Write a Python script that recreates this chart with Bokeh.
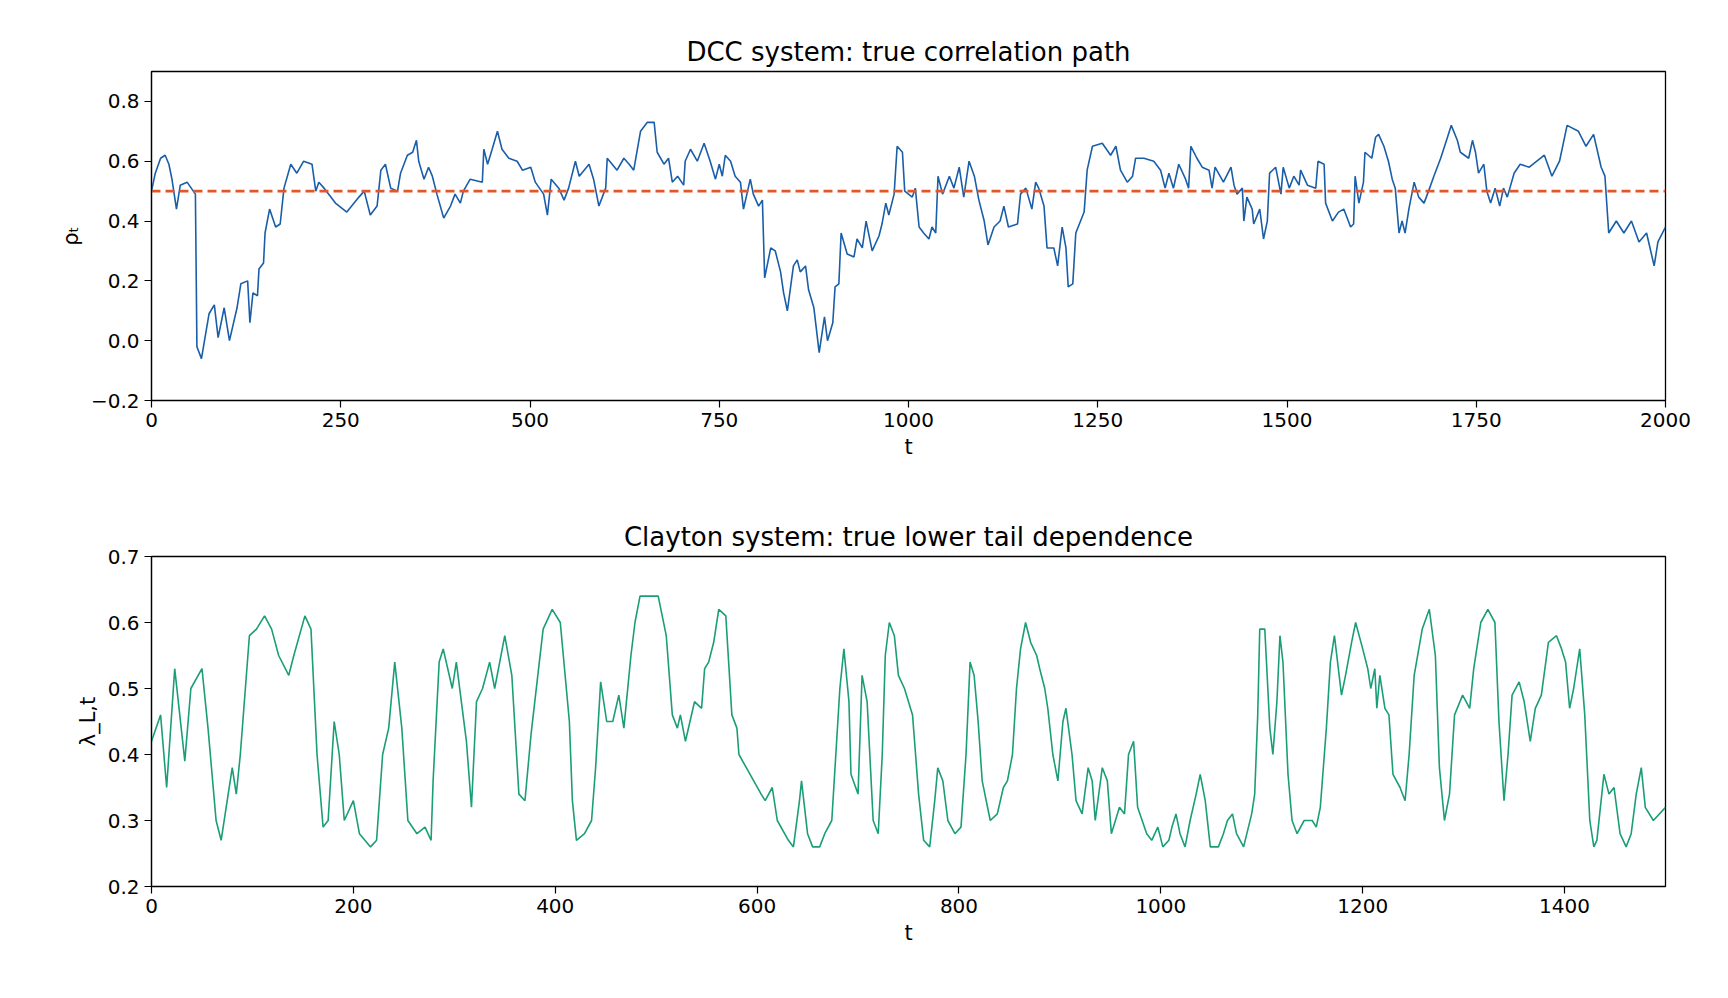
from bokeh.plotting import figure
from bokeh.layouts import column
from bokeh.models import FixedTicker, Range1d
from bokeh.embed import file_html
from bokeh.resources import INLINE

# DCC: true correlation path
dcc_t = [0,5,12,18,23,27,33,38,47,58,60,66,76,83,88,96,103,113,118,127,130,134,140,142,148,150,156,164,170,175,184,192,201,212,217,221,228,243,258,274,281,289,298,303,309,316,325,329,338,345,350,353,360,366,371,377,386,395,401,408,412,421,437,439,444,450,457,463,472,483,490,501,507,518,523,528,538,545,551,560,565,578,584,591,600,
         602,615,624,631,637,646,655,664,668,677,683,688,695,703,705,712,721,730,738,745,750,754,758,765,771,778,782,791,795,802,807,810,818,824,831,835,840,848,853,857,864,868,875,882,889,893,900,903,908,911,919,928,932,939,944,952,961,965,970,974,978,981,985,992,995,1005,1009,1014,1020,1027,1031,1036,1039,1045,1054,1060,1067,1073,1080,1087,1093,1100,1105,1113,1121,1126,1132,1144,1148,1155,1163,1168,1172,1179,1183,1192,1197,1203,1208,1211,1217,1221,
         1232,1236,1243,1256,1267,1274,1280,1289,1296,1300,1311,1324,1333,1339,1344,1350,1357,1366,1370,1373,1381,1388,1397,1401,1405,1416,1426,1430,1434,1441,1443,1447,1454,1456,1464,1469,1474,1477,1485,1492,1495,1503,1509,1516,1518,1527,1538,1541,1549,1551,1560,1568,1575,1584,1588,1590,1595,1601,1603,1612,1617,1621,1628,1634,1639,1643,1648,1652,1656,1661,1668,1674,1681,1687,1694,1703,1712,1717,1725,1729,1740,1745,1749,1753,1760,1764,1769,1775,1781,1786,1791,1800,1808,
         1820,1840,1850,1860,1870,1885,1895,1905,1915,1920,1925,1935,1945,1955,1965,1975,1985,1990,2000]
dcc_rho = [0.50,0.56,0.61,0.62,0.59,0.54,0.44,0.52,0.53,0.49,-0.02,-0.06,0.09,0.12,0.01,0.11,0.00,0.11,0.19,0.20,0.06,0.16,0.15,0.24,0.26,0.36,0.44,0.38,0.39,0.51,0.59,0.56,0.60,0.59,0.50,0.53,0.51,0.46,0.43,0.48,0.50,0.42,0.45,0.57,0.59,0.51,0.50,0.56,0.62,0.63,0.67,0.60,0.54,0.58,0.55,0.49,0.41,0.45,0.49,0.46,0.50,0.54,0.53,0.64,0.59,0.64,0.70,0.64,0.61,0.60,0.57,0.58,0.53,0.49,0.42,0.54,0.51,0.47,0.51,0.60,0.55,0.59,0.54,0.45,0.51,
           0.61,0.57,0.61,0.59,0.57,0.70,0.73,0.73,0.63,0.59,0.61,0.53,0.55,0.52,0.60,0.64,0.60,0.66,0.60,0.54,0.59,0.55,0.62,0.60,0.55,0.53,0.44,0.54,0.49,0.45,0.47,0.21,0.31,0.30,0.23,0.16,0.10,0.25,0.27,0.23,0.25,0.17,0.11,-0.04,0.08,0.00,0.06,0.18,0.19,0.36,0.29,0.28,0.34,0.31,0.40,0.30,0.35,0.39,0.46,0.42,0.46,0.49,0.65,0.63,0.50,0.48,0.51,0.38,0.36,0.34,0.38,0.36,0.55,0.49,0.55,0.51,0.58,0.48,0.60,0.55,0.47,0.40,0.32,0.38,0.40,0.45,0.38,0.39,0.49,0.51,0.44,0.53,0.51,0.45,0.31,0.31,0.25,0.38,0.31,0.18,0.19,0.36,
           0.43,0.57,0.65,0.66,0.62,0.65,0.57,0.53,0.55,0.61,0.61,0.60,0.57,0.51,0.56,0.51,0.59,0.54,0.51,0.65,0.61,0.58,0.57,0.51,0.58,0.53,0.58,0.52,0.49,0.51,0.40,0.48,0.44,0.39,0.44,0.34,0.40,0.56,0.58,0.49,0.58,0.51,0.55,0.52,0.57,0.52,0.51,0.60,0.59,0.46,0.40,0.43,0.44,0.38,0.39,0.55,0.46,0.53,0.63,0.61,0.68,0.69,0.65,0.60,0.54,0.51,0.36,0.40,0.36,0.44,0.53,0.48,0.46,0.50,0.55,0.61,0.68,0.72,0.67,0.63,0.61,0.67,0.63,0.56,0.59,0.50,0.46,0.51,0.45,0.51,0.48,0.56,0.59,
           0.58,0.62,0.55,0.60,0.72,0.70,0.65,0.69,0.58,0.55,0.36,0.40,0.36,0.40,0.33,0.36,0.25,0.33,0.38]
dcc_baseline = 0.5

# Clayton: true lower tail dependence
cl_t = [0,9,15,23,33,39,50,56,64,69,80,84,88,97,104,112,119,126,136,141,152,158,164,170,175,181,186,191,200,206,217,223,229,235,241,248,254,263,271,277,279,285,289,298,302,312,317,322,328,335,340,350,357,364,370,376,388,397,405,414,417,421,429,436,440,445,451,457,463,468,475,479,484,495,502,510,516,521,524,529,538,545,548,552,557,562,569,575,580,582,604,608,615,620,631,636,642,644,650,655,662,667,674,678,682,686,691,693,700,704,709,715,720,724,727,731,736,740,746,754,760,765,771,776,779,784,789,796,802,807,811,815,819,823,831,838,844,848,853,857,861,866,871,877,880,885,888,893,898,903,906,912,916,922,928,932,935,942,947,951,959,964,968,973,977,986,991,997,1002,1008,1011,1015,1019,1024,1029,1035,1039,1044,1049,1057,1062,1066,1071,1075,1082,1090,1093,1096,1098,1103,1108,1111,1115,1118,1121,1126,1130,1135,1142,1150,1154,1158,1164,1168,1172,1179,1183,1189,1193,1200,1205,1208,1212,1214,1217,1222,1226,1230,1237,1242,1246,1251,1259,1266,1272,1276,1281,1286,1291,1299,1306,1310,1317,1324,1331,1335,1340,1344,1348,1355,1360,1366,1371,1377,1384,1392,1397,1401,1405,1409,1415,1420,1425,1429,1432,1439,1444,1449,1455,1461,1466,1471,1476,1480,1488,1500]
cl_lambda = [0.42,0.46,0.35,0.53,0.39,0.50,0.53,0.44,0.30,0.27,0.38,0.34,0.40,0.58,0.59,0.61,0.59,0.55,0.52,0.55,0.61,0.59,0.40,0.29,0.30,0.45,0.40,0.30,0.33,0.28,0.26,0.27,0.40,0.44,0.54,0.44,0.30,0.28,0.29,0.27,0.36,0.54,0.56,0.50,0.54,0.42,0.32,0.48,0.50,0.54,0.50,0.58,0.52,0.34,0.33,0.43,0.59,0.62,0.60,0.45,0.33,0.27,0.28,0.30,0.38,0.51,0.45,0.45,0.49,0.44,0.55,0.60,0.64,0.64,0.64,0.58,0.46,0.44,0.46,0.42,0.48,0.47,0.53,0.54,0.57,0.62,0.61,0.46,0.44,0.40,0.34,0.33,0.35,0.30,0.27,0.26,0.33,0.36,0.28,0.26,0.26,0.28,0.30,0.40,0.50,0.56,0.48,0.37,0.34,0.52,0.48,0.30,0.28,0.40,0.55,0.60,0.58,0.52,0.50,0.46,0.34,0.27,0.26,0.33,0.38,0.36,0.30,0.28,0.29,0.40,0.54,0.52,0.45,0.36,0.30,0.31,0.35,0.36,0.40,0.50,0.56,0.60,0.57,0.55,0.53,0.50,0.47,0.40,0.36,0.45,0.47,0.40,0.33,0.31,0.38,0.36,0.30,0.38,0.36,0.28,0.32,0.31,0.40,0.42,0.32,0.28,0.27,0.29,0.26,0.27,0.29,0.31,0.28,0.26,0.30,0.34,0.37,0.33,0.26,0.26,0.28,0.30,0.31,0.28,0.26,0.31,0.34,0.46,0.59,0.59,0.44,0.40,0.48,0.58,0.54,0.37,0.30,0.28,0.30,0.30,0.29,0.32,0.44,0.54,0.58,0.49,0.52,0.57,0.60,0.56,0.53,0.50,0.53,0.47,0.52,0.47,0.46,0.37,0.35,0.33,0.40,0.52,0.59,0.62,0.55,0.38,0.30,0.34,0.46,0.49,0.47,0.53,0.60,0.62,0.60,0.45,0.33,0.40,0.49,0.51,0.48,0.42,0.47,0.49,0.57,0.58,0.56,0.54,0.47,0.50,0.56,0.46,0.30,0.26,0.27,0.37,0.34,0.35,0.28,0.26,0.28,0.34,0.38,0.32,0.30,0.32]

dcc_xticks = [0, 250, 500, 750, 1000, 1250, 1500, 1750, 2000]
dcc_yticks = [-0.2, 0.0, 0.2, 0.4, 0.6, 0.8]
cl_xticks = [0, 200, 400, 600, 800, 1000, 1200, 1400]
cl_yticks = [0.2, 0.3, 0.4, 0.5, 0.6, 0.7]

FONT = "DejaVu Sans"

def style(p, xt, yt, ylab):
    p.title.text_font = FONT
    p.title.text_font_size = "26px"
    p.title.text_font_style = "normal"
    p.title.text_color = "black"
    p.title.align = "center"
    p.outline_line_color = "black"
    p.outline_line_width = 1.3
    p.xgrid.visible = False
    p.ygrid.visible = False
    p.xaxis.ticker = FixedTicker(ticks=xt)
    p.yaxis.ticker = FixedTicker(ticks=yt)
    p.xaxis.axis_label = "t"
    p.yaxis.axis_label = ylab
    for ax in (p.xaxis, p.yaxis):
        ax.axis_label_text_font = FONT
        ax.axis_label_text_font_style = "normal"
        ax.axis_label_text_font_size = "21px"
        ax.axis_label_text_color = "black"
        ax.major_label_text_font = FONT
        ax.major_label_text_font_size = "20px"
        ax.major_label_text_color = "black"
        ax.minor_tick_line_color = None
        ax.major_tick_out = 7
        ax.major_tick_in = 0
        ax.major_tick_line_width = 1.2
        ax.axis_line_width = 1.2
    p.xaxis.major_label_overrides = {v: str(v) for v in xt}
    p.yaxis.major_label_overrides = {v: ("\u2212" if v < 0 else "") + f"{abs(v):.1f}" for v in yt}

p1 = figure(width=1712, height=470, output_backend="svg", toolbar_location=None,
            title="DCC system: true correlation path",
            x_range=Range1d(0, 2000), y_range=Range1d(-0.2, 0.9),
            min_border_left=151, min_border_right=47, min_border_top=71, min_border_bottom=70)
style(p1, dcc_xticks, dcc_yticks, "ρₜ")
p1.line(dcc_t, dcc_rho, line_color="#1a5ea8", line_width=1.6)
p1.line([0, 2000], [dcc_baseline, dcc_baseline], line_color="#e2572a", line_width=2.6, line_dash="9 5")

p2 = figure(width=1712, height=486, output_backend="svg", toolbar_location=None,
            title="Clayton system: true lower tail dependence",
            x_range=Range1d(0, 1500), y_range=Range1d(0.2, 0.7),
            min_border_left=151, min_border_right=47, min_border_top=86, min_border_bottom=70)
style(p2, cl_xticks, cl_yticks, "λ_L,t")
p2.line(cl_t, cl_lambda, line_color="#1b9e77", line_width=1.6)

layout = column(p1, p2, spacing=0)
open("out.html", "w").write(file_html(layout, INLINE))
